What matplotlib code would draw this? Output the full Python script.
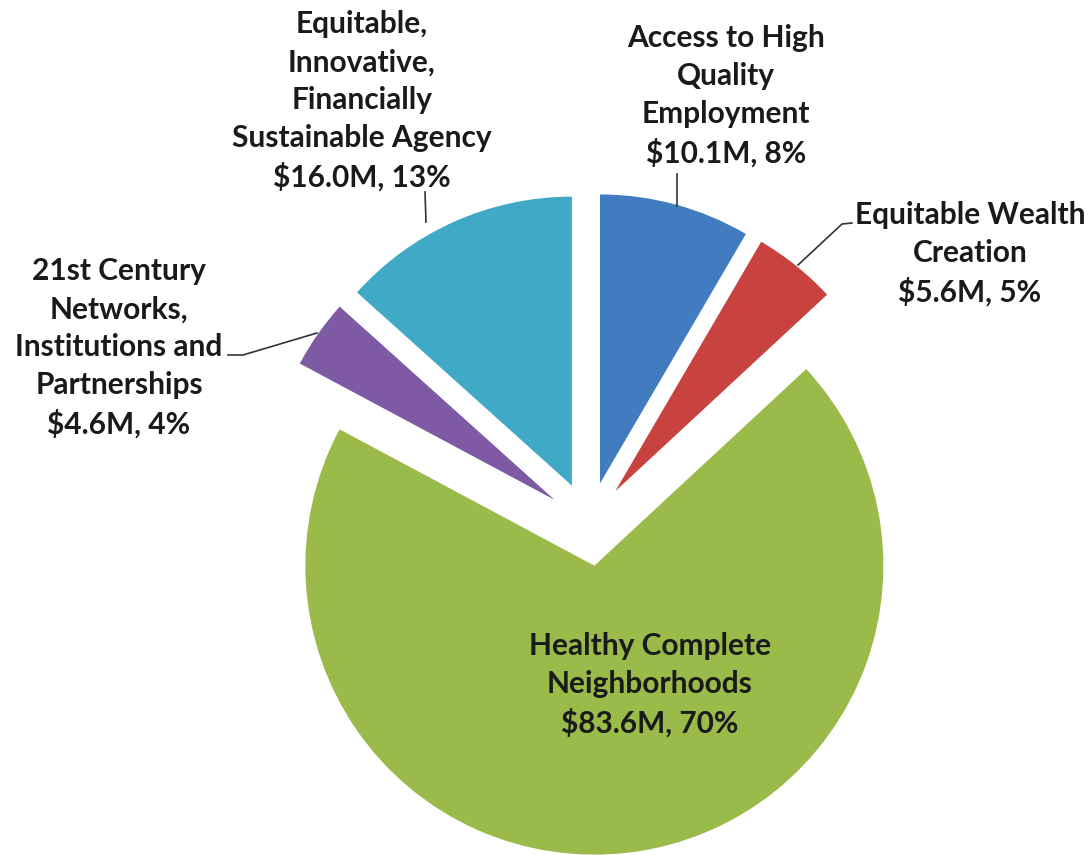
import matplotlib
matplotlib.use("Agg")
import matplotlib.pyplot as plt

# Budget by goal area (millions of dollars), clockwise from the top
categories = [
    "Access to High\nQuality\nEmployment",
    "Equitable Wealth\nCreation",
    "Healthy Complete\nNeighborhoods",
    "21st Century\nNetworks,\nInstitutions and\nPartnerships",
    "Equitable,\nInnovative,\nFinancially\nSustainable Agency",
]
amounts = [10.1, 5.6, 83.6, 4.6, 16.0]
percents = [8, 5, 70, 4, 13]
colors = ["#407cbf", "#c8423f", "#9aba4a", "#7e5aa5", "#3fa9c6"]

W, H = 1088, 855
fig = plt.figure(figsize=(W / 100, H / 100), dpi=100)
ax = fig.add_axes([0, 0, 1, 1])

cx, cy, R = 589, H - 524, 289
gap = 42  # every slice is pulled out by the same distance
ax.pie(amounts, colors=colors, startangle=90, counterclock=False,
       center=(cx, cy), radius=R, explode=[gap] * len(amounts),
       frame=True, wedgeprops=dict(linewidth=0))

ax.set_xlim(0, W)
ax.set_ylim(0, H)
ax.set_aspect("equal")
ax.axis("off")

labels = [f"{c}\n${a:.1f}M, {p}%" for c, a, p in zip(categories, amounts, percents)]

# label block centres (x, y in pixels from top)
label_pos = [(726, 96), (970, 254), (650, 685), (119, 348), (362, 101)]
font = dict(family=["Lato", "DejaVu Sans"], fontsize=21.5, fontweight="bold",
            color="#1a1a1a", linespacing=1.43)
for text, (x, y) in zip(labels, label_pos):
    ax.text(x, H - y, text, ha="center", va="center", **font)

# leader lines (pixel coordinates, from top)
leaders = [
    [(677, 174), (677, 206)],
    [(852, 223), (842, 224), (798, 265)],
    [(228, 355), (243, 355), (317, 333)],
    [(425, 192), (426, 222)],
]
for pts in leaders:
    xs = [p[0] for p in pts]
    ys = [H - p[1] for p in pts]
    ax.plot(xs, ys, color="#333333", linewidth=1.2)

fig.savefig("out.png", dpi=100, facecolor="white")
